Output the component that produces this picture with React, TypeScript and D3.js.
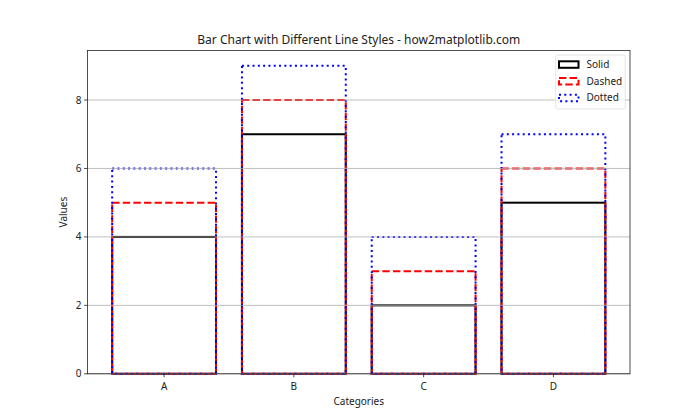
import React from "react";
import * as d3 from "d3";

const categories = ["A", "B", "C", "D"];
const solidValues = [4, 7, 2, 5];
const dashedValues = [5, 8, 3, 6];
const dottedValues = [6, 9, 4, 7];
const yTicks = [0, 2, 4, 6, 8];

const series = [
  { name: "Solid", values: solidValues, color: "black", dash: "" },
  { name: "Dashed", values: dashedValues, color: "red", dash: "7.4,3.2" },
  { name: "Dotted", values: dottedValues, color: "blue", dash: "2,3.3" },
];

const W = 700, H = 420;
const L = 87.5, R = 630, T = 50.4, B = 373.8;
const FONT = "'Noto Sans', 'DejaVu Sans', sans-serif";

export default function App() {
  const x = d3.scaleLinear().domain([-0.59, 3.59]).range([L, R]);
  const maxV = d3.max(dottedValues) as number;
  const y = d3.scaleLinear().domain([0, maxV * 1.05]).range([B, T]);
  const bw = 0.8;

  return (
    <svg width={W} height={H} style={{ position: "absolute", left: 0, top: 0, background: "white" }} fontFamily={FONT}>
      <rect x={0} y={0} width={W} height={H} fill="white" />
      {series.map((s) =>
        s.values.map((v, i) => (
          <rect
            key={s.name + i}
            x={x(i - bw / 2)}
            y={y(v)}
            width={x(i + bw / 2) - x(i - bw / 2)}
            height={y(0) - y(v)}
            fill="none"
            stroke={s.color}
            strokeWidth={2}
            strokeDasharray={s.dash || undefined}
          />
        ))
      )}
      {yTicks.map((t) => (
        <line key={"g" + t} x1={L} x2={R} y1={y(t)} y2={y(t)} stroke="#b0b0b0" strokeWidth={0.8} />
      ))}
      <rect x={L} y={T} width={R - L} height={B - T} fill="none" stroke="#222" strokeWidth={0.8} />
      {yTicks.map((t) => (
        <g key={"yt" + t}>
          <line x1={L - 3.5} x2={L} y1={y(t)} y2={y(t)} stroke="#222" strokeWidth={0.8} />
          <text x={L - 6} y={y(t)} dy="0.35em" textAnchor="end" fontSize={10} fill="#222">{t}</text>
        </g>
      ))}
      {categories.map((c, i) => (
        <g key={"xt" + c}>
          <line x1={x(i)} x2={x(i)} y1={B} y2={B + 3.5} stroke="#222" strokeWidth={0.8} />
          <text x={x(i)} y={B + 16} textAnchor="middle" fontSize={10} fill="#222">{c}</text>
        </g>
      ))}
      <text x={(L + R) / 2} y={T - 6} textAnchor="middle" fontSize={12} fill="#222">
        Bar Chart with Different Line Styles - how2matplotlib.com
      </text>
      <text x={(L + R) / 2} y={405} textAnchor="middle" fontSize={10} fill="#222">Categories</text>
      <text transform={`translate(67,${(T + B) / 2}) rotate(-90)`} textAnchor="middle" fontSize={10} fill="#222">Values</text>
      <g>
        <rect x={555.7} y={55} width={69.6} height={54} rx={2} fill="white" fillOpacity={0.8} stroke="#ddd" strokeWidth={0.8} />
        {series.map((s, i) => {
          const cy = 64.3 + i * 16.7;
          return (
            <g key={"lg" + s.name}>
              <rect x={559} y={cy - 3} width={19.5} height={6.5} fill="none" stroke={s.color} strokeWidth={2} strokeDasharray={s.dash || undefined} />
              <text x={586.5} y={cy} dy="0.35em" fontSize={10} fill="#222">{s.name}</text>
            </g>
          );
        })}
      </g>
    </svg>
  );
}
